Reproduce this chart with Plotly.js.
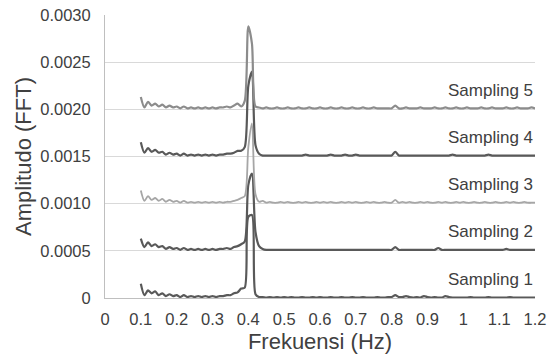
<!DOCTYPE html>
<html>
<head>
<meta charset="utf-8">
<script src="https://cdn.plot.ly/plotly-3.0.1.min.js"></script>
<style>html,body{margin:0;padding:0;background:#fff;}#chart{width:552px;height:355px;}</style>
</head>
<body>
<div id="chart"></div>
<script>
// Frequency grid (Hz)
const freq = [
 0.10,0.11,0.12,0.13,0.14,0.15,0.16,0.17,0.18,0.19,
 0.20,0.21,0.22,0.23,0.24,0.25,0.26,0.27,0.28,0.29,
 0.30,0.31,0.32,0.33,0.34,0.35,0.36,0.37,0.38,0.39,
 0.40,0.41,0.42,0.43,0.44,0.45,0.46,0.47,0.48,0.49,
 0.50,0.51,0.52,0.53,0.54,0.55,0.56,0.57,0.58,0.59,
 0.60,0.61,0.62,0.63,0.64,0.65,0.66,0.67,0.68,0.69,
 0.70,0.71,0.72,0.73,0.74,0.75,0.76,0.77,0.78,0.79,
 0.80,0.81,0.82,0.83,0.84,0.85,0.86,0.87,0.88,0.89,
 0.90,0.91,0.92,0.93,0.94,0.95,0.96,0.97,0.98,0.99,
 1.00,1.01,1.02,1.03,1.04,1.05,1.06,1.07,1.08,1.09,
 1.10,1.11,1.12,1.13,1.14,1.15,1.16,1.17,1.18,1.19,1.20
];

// FFT amplitude of each sampling (before vertical stacking offset)
const sampling1 = [
 0.00015,0.00003,0.00008,0.00005,0.00007,0.00003,0.00005,0.00002,0.00004,0.00002,
 0.00003,0.00001,0.00003,0.00001,0.00002,0.00001,0.00002,0.00001,0.00002,0.00001,
 0.00002,0.00001,0.00002,0.00002,0.00003,0.00003,0.00005,0.00006,0.00010,0.00011,
 0.00086,0.00088,0.00004,0.00001,0.00001,0.000005,0.00001,0.000005,0.00001,0.000005,
 0.00001,0.000005,0.00001,0.000005,0.000005,0.00001,0.000005,0.000005,0.00001,0.000005,
 0.00001,0.000005,0.000005,0.00001,0.000005,0.000005,0.00001,0.000005,0.000005,0.00001,
 0.000005,0.000005,0.00001,0.000005,0.000005,0.000005,0.00001,0.000005,0.000005,0.00001,
 0.00001,0.00003,0.00001,0.00001,0.00002,0.00001,0.000005,0.00001,0.000005,0.00002,
 0.00001,0.000005,0.00001,0.000005,0.000005,0.00002,0.00001,0.000005,0.000005,0.000005,
 0.000005,0.000005,0.00001,0.000005,0.000005,0.000005,0.000005,0.00001,0.000005,0.000005,
 0.000005,0.000005,0.000005,0.00001,0.000005,0.000005,0.000005,0.000005,0.000005,0.000005,0.000005
];
const sampling2 = [
 0.00013,0.00004,0.00009,0.00005,0.00007,0.00004,0.00005,0.00002,0.00004,0.00002,
 0.00003,0.00001,0.00003,0.00001,0.00002,0.00001,0.00002,0.00001,0.00002,0.00001,
 0.00002,0.00001,0.00002,0.00002,0.00003,0.00002,0.00004,0.00005,0.00007,0.00010,
 0.00070,0.00082,0.00020,0.00005,0.00002,0.00001,0.00001,0.00001,0.00001,0.00001,
 0.00001,0.00001,0.00001,0.00001,0.00001,0.00001,0.00001,0.00001,0.00001,0.00001,
 0.00001,0.00001,0.00001,0.00001,0.00001,0.00001,0.00001,0.00001,0.00001,0.00001,
 0.00001,0.00001,0.00001,0.00001,0.00001,0.00001,0.00001,0.00001,0.00001,0.00001,
 0.00001,0.00004,0.00001,0.00001,0.00001,0.00001,0.00001,0.00001,0.00001,0.00001,
 0.00001,0.00001,0.00001,0.00003,0.00001,0.00001,0.00001,0.00001,0.00001,0.00001,
 0.00001,0.00001,0.00001,0.00001,0.00001,0.00001,0.00001,0.00001,0.00001,0.00001,
 0.00001,0.00001,0.00002,0.00001,0.00001,0.00001,0.00001,0.00001,0.00001,0.00001,0.00001
];
const sampling3 = [
 0.00014,0.00003,0.00008,0.00004,0.00006,0.00003,0.00005,0.00002,0.00004,0.00002,
 0.00003,0.00001,0.00003,0.00001,0.00002,0.00001,0.00002,0.00001,0.00002,0.00001,
 0.00002,0.00001,0.00002,0.00001,0.00002,0.00002,0.00003,0.00004,0.00006,0.00008,
 0.00060,0.00085,0.00010,0.00002,0.00003,0.00001,0.00002,0.00001,0.00001,0.00002,
 0.00001,0.00002,0.00001,0.00001,0.00002,0.00001,0.00002,0.00001,0.00001,0.00002,
 0.00001,0.00002,0.00001,0.00002,0.00001,0.00001,0.00002,0.00001,0.00002,0.00001,
 0.00002,0.00001,0.00001,0.00002,0.00001,0.00002,0.00001,0.00001,0.00002,0.00001,
 0.00001,0.00004,0.00001,0.00002,0.00001,0.00002,0.00001,0.00001,0.00002,0.00001,
 0.00002,0.00001,0.00001,0.00002,0.00001,0.00002,0.00001,0.00001,0.00002,0.00001,
 0.00002,0.00001,0.00001,0.00002,0.00001,0.00001,0.00002,0.00001,0.00001,0.00002,
 0.00001,0.00001,0.00002,0.00001,0.00002,0.00001,0.00001,0.00002,0.00001,0.00001,0.00001
];
const sampling4 = [
 0.00015,0.00004,0.00009,0.00005,0.00007,0.00004,0.00005,0.00002,0.00004,0.00002,
 0.00003,0.00001,0.00003,0.00001,0.00002,0.00001,0.00002,0.00001,0.00002,0.00001,
 0.00002,0.00001,0.00002,0.00002,0.00003,0.00003,0.00004,0.00006,0.00006,0.00010,
 0.00075,0.00090,0.00012,0.00003,0.00001,0.00001,0.00001,0.00001,0.00001,0.00001,
 0.00001,0.00001,0.00001,0.00001,0.00001,0.00001,0.00002,0.00001,0.00001,0.00001,
 0.00001,0.00001,0.00001,0.00002,0.00001,0.00001,0.00001,0.00002,0.00001,0.00001,
 0.00002,0.00001,0.00001,0.00001,0.00001,0.00001,0.00001,0.00001,0.00001,0.00001,
 0.00001,0.00005,0.00001,0.00001,0.00001,0.00001,0.00001,0.00001,0.00001,0.00001,
 0.00001,0.00001,0.00001,0.00001,0.00001,0.00001,0.00001,0.00002,0.00001,0.00001,
 0.00001,0.00001,0.00001,0.00001,0.00001,0.00001,0.00001,0.00002,0.00001,0.00001,
 0.00001,0.00001,0.00001,0.00001,0.00001,0.00001,0.00001,0.00001,0.00001,0.00001,0.00001
];
const sampling5 = [
 0.00013,0.00002,0.00008,0.00004,0.00006,0.00003,0.00005,0.00002,0.00004,0.00002,
 0.00003,0.00001,0.00003,0.00001,0.00002,0.00001,0.00002,0.00001,0.00002,0.00001,
 0.00002,0.00001,0.00002,0.00002,0.00003,0.00002,0.00004,0.00006,0.00003,0.00009,
 0.00088,0.00070,0.00003,0.00002,0.00001,0.00002,0.00001,0.00001,0.00002,0.00001,
 0.00001,0.00002,0.00001,0.00001,0.00002,0.00001,0.00001,0.00002,0.00001,0.00001,
 0.00002,0.00001,0.00001,0.00002,0.00001,0.00001,0.00002,0.00001,0.00001,0.00002,
 0.00001,0.00001,0.00002,0.00001,0.00001,0.00002,0.00001,0.00001,0.00001,0.00001,
 0.00001,0.00004,0.00001,0.00001,0.00002,0.00001,0.00001,0.00001,0.00002,0.00001,
 0.00001,0.00001,0.00002,0.00001,0.00001,0.00002,0.00001,0.00001,0.00002,0.00001,
 0.00001,0.00002,0.00001,0.00001,0.00001,0.00002,0.00001,0.00001,0.00002,0.00001,
 0.00001,0.00001,0.00002,0.00001,0.00001,0.00002,0.00001,0.00001,0.00001,0.00002,0.00001
];

const seriesNames = ["Sampling 1","Sampling 2","Sampling 3","Sampling 4","Sampling 5"];
const seriesData = [sampling1, sampling2, sampling3, sampling4, sampling5];
const offsets = [0, 0.0005, 0.0010, 0.0015, 0.0020];
const colors = ["#595959","#595959","#a6a6a6","#595959","#8c8c8c"];
const widths = [2.2, 2.2, 1.8, 2.2, 2.2];

const yTickVals = [0,0.0005,0.0010,0.0015,0.0020,0.0025,0.0030];
const yTickText = ["0","0.0005","0.0010","0.0015","0.0020","0.0025","0.0030"];
const xTickVals = [0,0.1,0.2,0.3,0.4,0.5,0.6,0.7,0.8,0.9,1,1.1,1.2];
const xTickText = ["0","0.1","0.2","0.3","0.4","0.5","0.6","0.7","0.8","0.9","1","1.1","1.2"];

const font = "Liberation Sans, Arial, sans-serif";
const textColor = "#404040";

const traces = seriesData.map((vals, i) => ({
  type: "scatter", mode: "lines",
  x: freq,
  y: vals.map(v => v + offsets[i]),
  name: seriesNames[i],
  line: {color: colors[i], width: widths[i], shape: "spline", smoothing: 0.8},
  hoverinfo: "skip"
}));

const annotations = seriesNames.map((n, i) => ({
  x: 1.2, y: offsets[i] + 0.0002, xref: "x", yref: "y",
  xanchor: "right", yanchor: "middle",
  text: n, showarrow: false,
  font: {family: font, size: 17, color: textColor}
}));

const layout = {
  width: 552, height: 355,
  margin: {l: 105, r: 17, t: 15, b: 57},
  paper_bgcolor: "#ffffff", plot_bgcolor: "#ffffff",
  showlegend: false,
  font: {family: font, color: textColor},
  xaxis: {
    range: [0, 1.2], tickvals: xTickVals, ticktext: xTickText,
    showgrid: false, zeroline: false,
    showline: true, linecolor: "#bfbfbf", linewidth: 1,
    ticks: "", ticklabelstandoff: 6,
    tickfont: {family: font, size: 16.5, color: textColor},
    title: {text: "Frekuensi (Hz)", font: {family: font, size: 22, color: textColor}, standoff: 6}
  },
  yaxis: {
    range: [0, 0.0030], tickvals: yTickVals, ticktext: yTickText,
    showgrid: true, gridcolor: "#d9d9d9", gridwidth: 1,
    zeroline: false, showline: true, linecolor: "#bfbfbf", linewidth: 1,
    ticks: "", ticklabelstandoff: 10,
    tickfont: {family: font, size: 16.5, color: textColor},
    title: {text: "Amplitudo (FFT)", font: {family: font, size: 22, color: textColor}, standoff: 2}
  },
  annotations: annotations
};

Plotly.newPlot("chart", traces, layout, {staticPlot: true, displayModeBar: false});
</script>
</body>
</html>
